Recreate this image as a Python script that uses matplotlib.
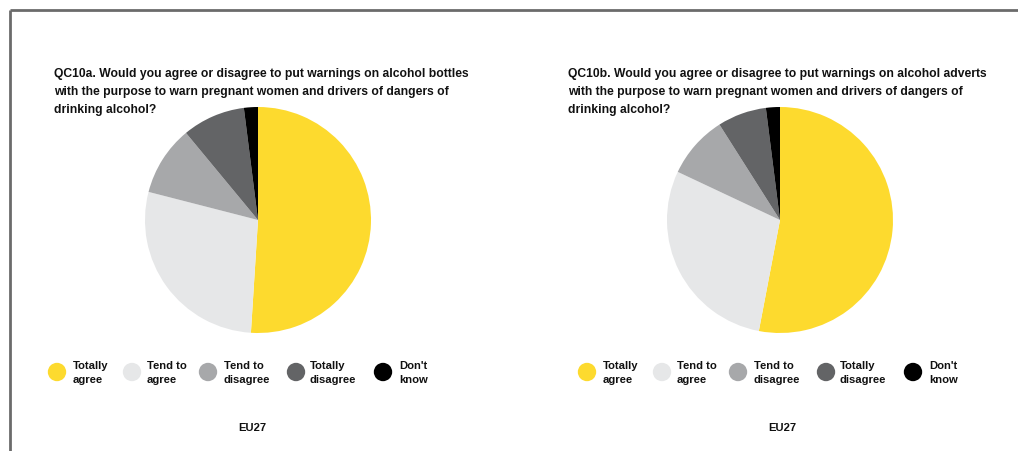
import matplotlib
matplotlib.use("Agg")
import matplotlib.pyplot as plt

plt.rcParams['font.family'] = ['Liberation Sans', 'DejaVu Sans']

categories = ["Totally\nagree", "Tend to\nagree", "Tend to\ndisagree", "Totally\ndisagree", "Don't\nknow"]
colors = ["#FDDA2E", "#E6E7E8", "#A7A8AA", "#636466", "#000000"]

bottles = [51, 28, 10, 9, 2]
adverts = [53, 29, 9, 7, 2]

titles = [
    "QC10a. Would you agree or disagree to put warnings on alcohol bottles\n"
    "with the purpose to warn pregnant women and drivers of dangers of\n"
    "drinking alcohol?",
    "QC10b. Would you agree or disagree to put warnings on alcohol adverts\n"
    "with the purpose to warn pregnant women and drivers of dangers of\n"
    "drinking alcohol?",
]
footer = "EU27"

W, H = 1018, 452
fig = plt.figure(figsize=(W / 100, H / 100), dpi=100)
fig.patch.set_facecolor("white")

# Overlay axes in pixel coordinates for frame, titles and legends
ov = fig.add_axes([0, 0, 1, 1])
ov.set_xlim(0, W)
ov.set_ylim(H, 0)
ov.axis("off")

# Frame: top and left rules
ov.plot([10, W], [10.5, 10.5], color="#6b6b6b", lw=2, solid_capstyle="butt")
ov.plot([10, 10], [10.5, H], color="#6b6b6b", lw=2, solid_capstyle="butt")

panels = [
    dict(values=bottles, title=titles[0], title_x=54, cx=258, cy=221, leg_dx=0),
    dict(values=adverts, title=titles[1], title_x=568, cx=780, cy=221, leg_dx=530),
]

marker_x = [57, 132, 208, 296, 383]
text_x = [73, 147, 224, 310, 399]
R = 113
txt_col = "#111111"

for p in panels:
    ov.text(p["title_x"], 67.5, p["title"], fontsize=8.7, fontweight="bold",
            va="top", ha="left", linespacing=1.68, color=txt_col)

    ax = fig.add_axes([(p["cx"] - R) / W, (H - p["cy"] - R) / H, 2 * R / W, 2 * R / H])
    ax.pie(p["values"], colors=colors, startangle=90, counterclock=False,
           wedgeprops=dict(linewidth=0))
    ax.set_xlim(-1, 1)
    ax.set_ylim(-1, 1)
    ax.set_aspect("equal")
    ax.axis("off")

    for mx, tx, lab, col in zip(marker_x, text_x, categories, colors):
        ov.scatter(mx + p["leg_dx"], 373, s=175, color=col, edgecolors="none")
        ov.text(tx + p["leg_dx"], 373, lab, fontsize=8.1, fontweight="bold",
                va="center", ha="left", linespacing=1.4, color=txt_col)

    ov.text(252 + p["leg_dx"], 428, footer, fontsize=8.1, fontweight="bold",
            va="center", ha="center", color=txt_col)

fig.savefig("out.png", dpi=100, facecolor="white")
